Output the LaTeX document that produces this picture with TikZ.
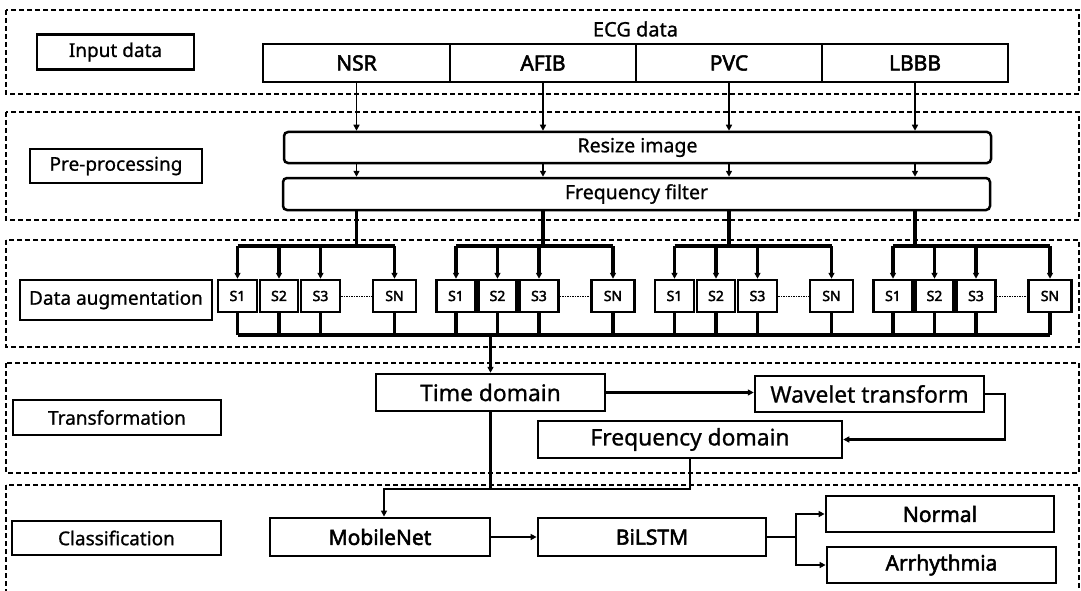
\documentclass[tikz,border=0pt]{standalone}
\usepackage{fontspec}
\setmainfont{Noto Sans}[FakeBold=0.9]
\newfontfamily\hvy{Noto Sans}[FakeBold=2.4]
\usetikzlibrary{arrows.meta,calc}
\begin{document}
\begin{tikzpicture}[x=1pt,y=-1pt,
  frame/.style={draw, dash pattern=on 5pt off 3pt, line width=1.8pt},
  lbl/.style={draw, line width=2.5pt, inner sep=0pt, font=\fontsize{19}{22}\selectfont},
  cell/.style={draw, line width=2.8pt, inner sep=0pt, minimum height=38, font=\hvy\fontsize{21}{24}\selectfont},
  rbox/.style={draw, line width=2.5pt, inner sep=0pt, rounded corners=4pt, font=\fontsize{19.5}{22}\selectfont},
  sbox/.style={draw, line width=2.5pt, inner sep=0pt, minimum height=32, font=\hvy\fontsize{14}{16}\selectfont},
  tbox/.style={draw, line width=2.5pt, inner sep=0pt, font=\fontsize{22.8}{26}\selectfont},
  cbox/.style={draw, line width=2.8pt, inner sep=0pt, minimum height=38, font=\hvy\fontsize{21}{24}\selectfont},
  thin/.style={line width=1.7pt},
  bus/.style={line width=3.4pt},
  link/.style={line width=2.8pt},
  tip/.style={-{Triangle[length=6pt,width=6pt]}},
  dotline/.style={line width=0.9pt, dash pattern=on 1.5pt off 1pt}
]
\useasboundingbox (0,0) rectangle (1081,591);
% dashed frames
\draw[frame] (6,10) rectangle (1079,94);
\draw[frame] (6,112) rectangle (1079,220);
\draw[frame] (6,240) rectangle (1079,347);
\draw[frame] (6,363) rectangle (1079,473);
\draw[frame] (6,485) rectangle (1079,600);
% stage labels
\node[lbl, minimum width=157, minimum height=35] (linput) at (115.5,52) {Input data};
\node[lbl, minimum width=172, minimum height=34] (lpre) at (116,166) {Pre-processing};
\node[lbl, minimum width=192, minimum height=40] (laug) at (116,300) {Data augmentation};
\node[lbl, minimum width=208, minimum height=35] (ltrans) at (117,417.5) {Transformation};
\node[lbl, minimum width=209, minimum height=34] (lclass) at (116.5,538) {Classification};
% input data
\node[font=\fontsize{20}{24}\selectfont] (ecg) at (635.5,29) {ECG data};
\node[cell, minimum width=187] (nsr) at (356.5,63) {NSR};
\node[cell, minimum width=186] (afib) at (543,63) {AFIB};
\node[cell, minimum width=186] (pvc) at (729,63) {PVC};
\node[cell, minimum width=186] (lbbb) at (915,63) {LBBB};
% pre-processing
\node[rbox, minimum width=707, minimum height=31] (resize) at (637.5,147.5) {Resize image};
\node[rbox, minimum width=707, minimum height=32] (freq) at (636.5,194) {Frequency filter};
\foreach \c in {nsr,afib,pvc,lbbb}{
  \draw[thin,tip] (\c.south) -- (\c |- resize.north);
  \draw[thin,tip] (\c |- resize.south) -- (\c |- freq.north);
}
% data augmentation
\coordinate (bl) at (0,335);
\foreach \k/\src in {0/nsr,1/afib,2/pvc,3/lbbb}{
  \pgfmathsetmacro\d{218.5*\k}
  \node[sbox, minimum width=39] (sa-\k) at (237.5+\d,296) {S1};
  \node[sbox, minimum width=38] (sb-\k) at (279+\d,296) {S2};
  \node[sbox, minimum width=39] (sc-\k) at (320.5+\d,296) {S3};
  \node[sbox, minimum width=43] (sn-\k) at (394.5+\d,296) {SN};
  \coordinate (tl-\k) at (237.5+\d,246);
  \coordinate (tr-\k) at (394.5+\d,246);
  \draw[bus] (freq.south -| \src) -- (\src |- tl-\k);
  \draw[bus] (tl-\k) -- (tr-\k);
  \foreach \s in {sa,sb,sc,sn}{
    \draw[bus,tip] (\s-\k |- tl-\k) -- (\s-\k.north);
    \draw[bus] (\s-\k.south) -- (\s-\k |- bl);
  }
  \draw[dotline] (sc-\k.east) -- (sn-\k.west);
}
\draw[bus] (sa-0 |- bl) -- (sn-3 |- bl);
% transformation
\node[tbox, minimum width=229, minimum height=37] (time) at (490.5,392.5) {Time domain};
\node[tbox, minimum width=229, minimum height=36] (wave) at (869.5,394) {Wavelet transform};
\node[tbox, minimum width=304, minimum height=37] (fdom) at (690,439.5) {Frequency domain};
\coordinate (outb) at (490.5,335);
\draw[bus,tip] (outb) -- (time.north);
\draw[link,tip] (time.east) -- (wave.west |- time.east);
\coordinate (wr) at (1005,394);
\draw[link,tip] (wave.east) -- (wr) |- (fdom.east);
% classification
\node[cbox, minimum width=220] (mob) at (380,537) {MobileNet};
\node[cbox, minimum width=228] (bil) at (652,537) {BiLSTM};
\node[cbox, minimum width=228, minimum height=36] (norm) at (940,514) {Normal};
\node[cbox, minimum width=229, minimum height=36] (arr) at (941.5,565) {Arrhythmia};
\coordinate (join) at (490.5,489);
\coordinate (drop) at (384,489);
\draw[link] (time.south) -- (join);
\draw[link] (fdom.south) -- (fdom.south |- join) -- (join);
\draw[link,tip] (join) -- (drop) -- (drop |- mob.north);
\draw[link,tip] (mob.east) -- (bil.west);
\coordinate (br) at (796,537);
\draw[thin] (bil.east) -- (br);
\draw[thin,tip] (br) |- (norm.west);
\draw[thin,tip] (br) |- (arr.west);
\end{tikzpicture}
\end{document}
